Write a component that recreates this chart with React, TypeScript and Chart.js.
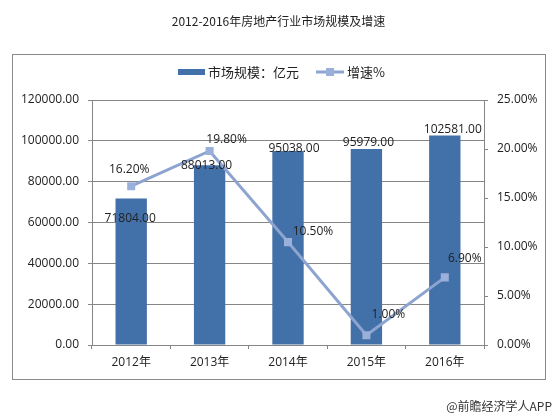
import React, { useEffect, useRef } from "react";
import { Chart, registerables } from "chart.js";

Chart.register(...registerables);

// Market size (100 million yuan) and year-on-year growth (%)
const YEARS = ["2012年", "2013年", "2014年", "2015年", "2016年"];
const MARKET_SIZE = [71804, 88013, 95038, 95979, 102581];
const GROWTH = [16.2, 19.8, 10.5, 1.0, 6.9];

const TITLE = "2012-2016年房地产行业市场规模及增速";
const LEGEND_BAR = "市场规模：亿元";
const LEGEND_LINE = "增速%";
const SOURCE = "@前瞻经济学人APP";

// Label nudges relative to each mark (px)
const BAR_LABEL_DX = [-1, -3, 6, 2, 8];
const BAR_LABEL_DY = [20, 0, -2, -6, -6];
const LINE_LABEL_DX = [-2, 17, 25, 22, 20];
const LINE_LABEL_DY = [-17, -11, -11, -21, -19];

const BAR_COLOR = "#4270A8";
const LINE_COLOR = "#8CA4CF";
const MARKER_COLOR = "#9AB0DA";
const AXIS_COLOR = "#868686";
const TEXT_COLOR = "#222222";
const FONT = "'Open Sans', 'Noto Sans CJK SC', sans-serif";
const CJK_FONT = "'Noto Sans CJK SC', 'Open Sans', sans-serif";

const decorPlugin = {
  id: "decor",
  afterDraw(chart: any) {
    const ctx = chart.ctx;
    ctx.save();
    // outer frame
    ctx.strokeStyle = "#8a8a8a";
    ctx.lineWidth = 1;
    ctx.strokeRect(12.5, 54.5, 533, 325);

    // title
    ctx.fillStyle = TEXT_COLOR;
    ctx.font = `12px ${CJK_FONT}`;
    ctx.textAlign = "center";
    ctx.textBaseline = "middle";
    ctx.fillText(TITLE, 278.5, 21);

    // legend
    ctx.fillStyle = BAR_COLOR;
    ctx.fillRect(178, 69, 27, 6);
    ctx.fillStyle = TEXT_COLOR;
    ctx.font = `13px ${CJK_FONT}`;
    ctx.textAlign = "left";
    ctx.fillText(LEGEND_BAR, 208, 72);

    ctx.strokeStyle = LINE_COLOR;
    ctx.lineWidth = 3;
    ctx.beginPath();
    ctx.moveTo(316, 72);
    ctx.lineTo(344, 72);
    ctx.stroke();
    ctx.fillStyle = MARKER_COLOR;
    ctx.fillRect(326, 68, 8, 8);
    ctx.fillStyle = TEXT_COLOR;
    ctx.fillText(LEGEND_LINE, 347, 72);

    // source note
    ctx.font = `12px ${CJK_FONT}`;
    ctx.textAlign = "right";
    ctx.fillStyle = "#333333";
    ctx.fillText(SOURCE, 552, 406);
    ctx.restore();
  },
};

const valueLabelPlugin = {
  id: "valueLabels",
  afterDatasetsDraw(chart: any) {
    const ctx = chart.ctx;
    ctx.save();
    ctx.font = `12px ${FONT}`;
    ctx.fillStyle = TEXT_COLOR;
    ctx.textAlign = "center";
    ctx.textBaseline = "middle";
    const barMeta = chart.getDatasetMeta(1);
    barMeta.data.forEach((el: any, i: number) => {
      ctx.fillText(MARKET_SIZE[i].toFixed(2), el.x + BAR_LABEL_DX[i], el.y + BAR_LABEL_DY[i]);
    });
    const lineMeta = chart.getDatasetMeta(0);
    lineMeta.data.forEach((el: any, i: number) => {
      ctx.fillText(GROWTH[i].toFixed(2) + "%", el.x + LINE_LABEL_DX[i], el.y + LINE_LABEL_DY[i]);
    });
    ctx.restore();
  },
};

export default function App() {
  const canvasRef = useRef<HTMLCanvasElement | null>(null);

  useEffect(() => {
    if (!canvasRef.current) return;
    const chart = new Chart(canvasRef.current, {
      type: "bar",
      data: {
        labels: YEARS,
        datasets: [
          {
            type: "line",
            label: LEGEND_LINE,
            data: GROWTH,
            yAxisID: "y1",
            borderColor: LINE_COLOR,
            borderWidth: 3,
            pointStyle: "rect",
            pointRadius: 5.7,
            pointBackgroundColor: MARKER_COLOR,
            pointBorderColor: MARKER_COLOR,
            pointBorderWidth: 0,
            tension: 0,
            order: 0,
          } as any,
          {
            type: "bar",
            label: LEGEND_BAR,
            data: MARKET_SIZE,
            yAxisID: "y",
            backgroundColor: BAR_COLOR,
            barPercentage: 0.4,
            categoryPercentage: 1,
            order: 1,
          },
        ],
      },
      options: {
        responsive: false,
        animation: false,
        layout: { padding: { left: 12, right: 12, top: 100, bottom: 38 } },
        plugins: {
          legend: { display: false },
          title: { display: false },
          tooltip: { enabled: false },
        },
        scales: {
          x: {
            offset: true,
            grid: {
              display: true,
              drawOnChartArea: false,
              offset: true,
              tickLength: 4,
              color: AXIS_COLOR,
            },
            border: { display: true, color: AXIS_COLOR },
            ticks: { color: TEXT_COLOR, font: { family: FONT, size: 12 }, padding: 6 },
            afterFit: (scale: any) => {
              scale.height = 34;
            },
          },
          y: {
            position: "left",
            min: 0,
            max: 120000,
            grid: { color: AXIS_COLOR, tickLength: 4 },
            border: { display: true, color: AXIS_COLOR },
            ticks: {
              stepSize: 20000,
              padding: 9,
              color: TEXT_COLOR,
              font: { family: FONT, size: 12 },
              callback: (v: any) => Number(v).toFixed(2),
            },
            afterFit: (scale: any) => {
              scale.width = 80;
            },
          },
          y1: {
            position: "right",
            min: 0,
            max: 25,
            grid: { drawOnChartArea: false, color: AXIS_COLOR, tickLength: 4 },
            border: { display: true, color: AXIS_COLOR },
            ticks: {
              stepSize: 5,
              padding: 9,
              color: TEXT_COLOR,
              font: { family: FONT, size: 12 },
              callback: (v: any) => Number(v).toFixed(2) + "%",
            },
            afterFit: (scale: any) => {
              scale.width = 61;
            },
          },
        },
      },
      plugins: [valueLabelPlugin, decorPlugin],
    });
    return () => chart.destroy();
  }, []);

  return (
    <div style={{ position: "absolute", left: 0, top: 0, width: 557, height: 417, background: "#ffffff" }}>
      <canvas ref={canvasRef} width={557} height={417} style={{ display: "block" }} />
    </div>
  );
}
